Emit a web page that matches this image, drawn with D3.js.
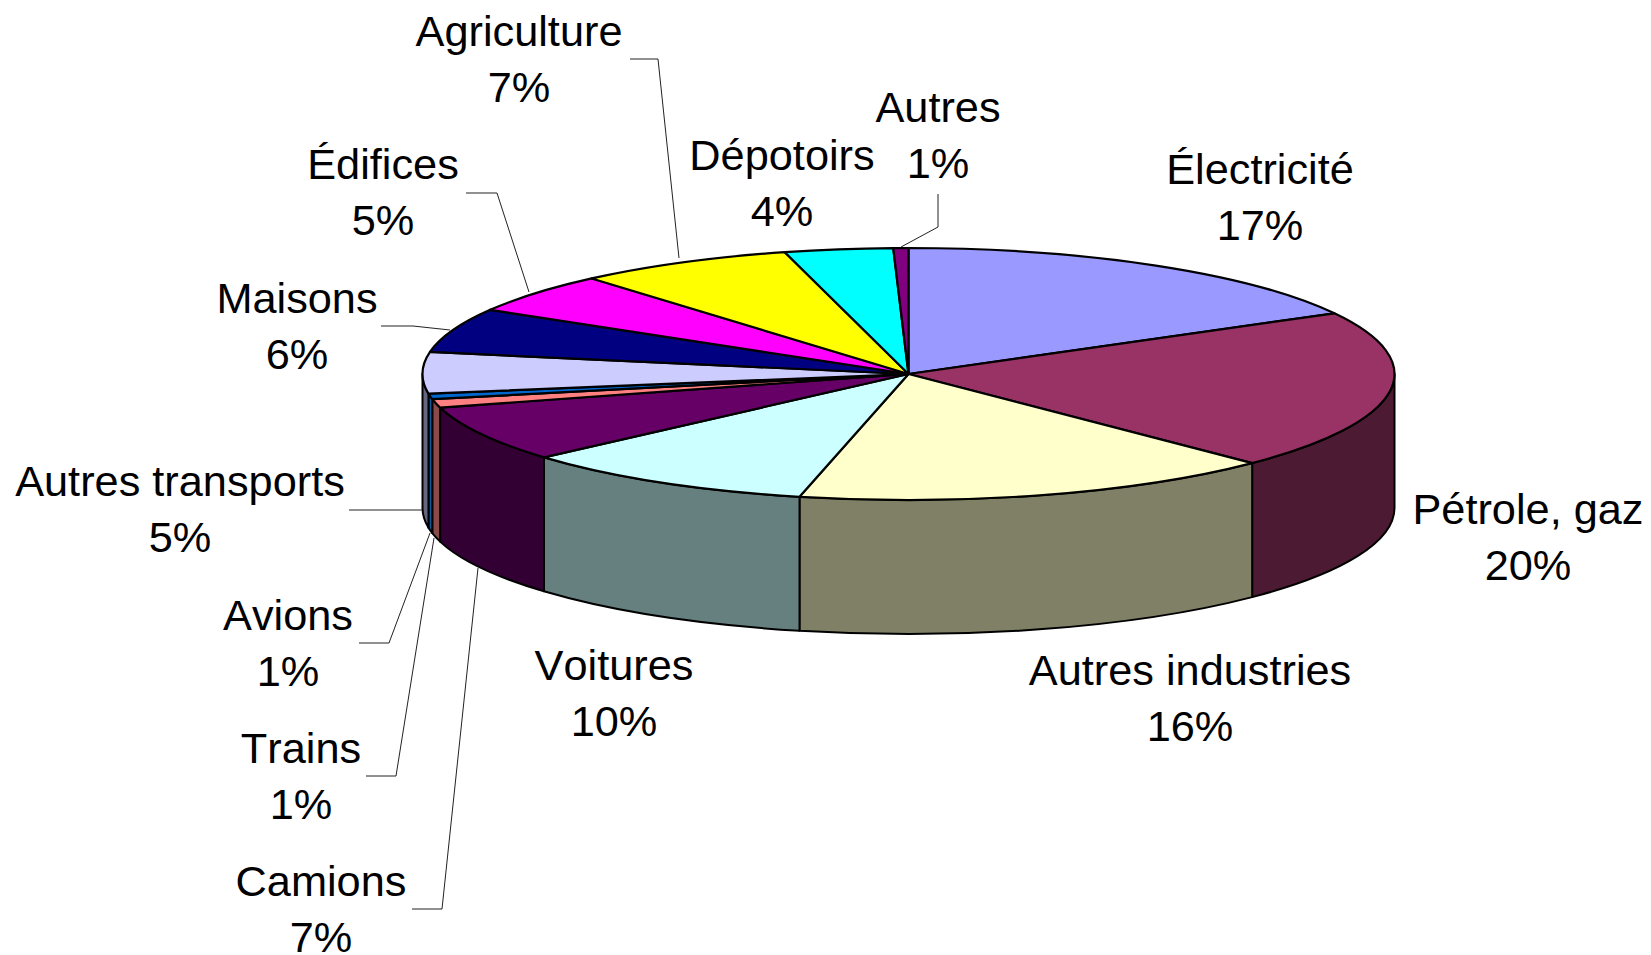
<!DOCTYPE html>
<html>
<head>
<meta charset="utf-8">
<title>Émissions par secteur</title>
<script src="https://cdn.jsdelivr.net/npm/d3@7"></script>
<style>
  html, body { margin: 0; padding: 0; background: #fff; overflow: hidden; }
  text { font-family: "Liberation Sans", Arial, sans-serif; font-size: 43.3px; fill: #000;
         font-kerning: none; font-variant-ligatures: none; }
</style>
</head>
<body>
<div id="chart"></div>
<script>
    // ===================== DATA =====================
    const categories = ["Électricité", "Pétrole, gaz", "Autres industries", "Voitures", "Camions", "Trains",
      "Avions", "Autres transports", "Maisons", "Édifices", "Agriculture", "Dépotoirs", "Autres"];
    // what the labels print
    const printedPercents = [17, 20, 16, 10, 7, 1, 1, 5, 6, 5, 7, 4, 1];
    // slice sizes (the 3D view skews them a little from the labels)
    const sliceShares = [17, 20.5, 16.1, 9.9, 7.2, 1.1, 0.7, 5.3, 5.7, 5.2, 7.2, 3.6, 0.5];

    // ===================== STYLE / LAYOUT =====================
    const sliceColors = ["#9999ff", "#993366", "#ffffcc", "#ccffff", "#660066", "#ff8080",
      "#0066cc", "#ccccff", "#000080", "#ff00ff", "#ffff00", "#00ffff", "#800080"];
    const wallColors = ["#4d4d80", "#4d1a33", "#808066", "#668080", "#330033", "#8a4a4a",
      "#0a5a9c", "#666680", "#000040", "#800080", "#808000", "#008080", "#400040"];

    const width = 1651, height = 955;
    const cx = 908.5, cy = 374, rx = 486, ry = 126, depth = 134;

    // label anchor: centre x, baseline of first line
    const labelSpots = [[1260, 184], [1528, 524], [1190, 685], [614, 680], [321, 896], [301, 763],
      [288, 630], [180, 496], [297, 313], [383, 179], [519, 46], [782, 170], [938, 122]];
    const lineGap = 55.6;

    const leaderLines = [
      [[349, 510], [422, 510]],
      [[359, 643], [389, 643], [430, 533]],
      [[366, 776], [396, 776], [434, 538]],
      [[412, 909], [442, 909], [478, 568]],
      [[381, 326], [413, 326], [450, 330]],
      [[466, 193], [497, 193], [529, 292]],
      [[630, 59], [658, 59], [679, 258]],
      [[938, 194], [938, 227], [901, 247]]
    ];

    // ===================== CHART =====================
    const svg = d3.select("#chart").append("svg")
      .attr("width", width)
      .attr("height", height);

    const color = d3.scaleOrdinal().domain(categories).range(sliceColors);
    const wallColor = d3.scaleOrdinal().domain(categories).range(wallColors);

    const pie = d3.pie().sort(null).value((d, i) => sliceShares[i]);
    const slices = pie(categories);
    const arc = d3.arc().innerRadius(0).outerRadius(rx);

    // point on the rim of the top ellipse
    const rimX = a => cx + rx * Math.sin(a);
    const rimY = a => cy - ry * Math.cos(a);

    // Walls: only the part of the rim facing the viewer
    const wallPath = d => {
      const from = Math.max(d.startAngle, Math.PI / 2);
      const to = Math.min(d.endAngle, Math.PI * 1.5);
      return `M${rimX(from)},${rimY(from)}`
        + `A${rx},${ry} 0 0 1 ${rimX(to)},${rimY(to)}`
        + `L${rimX(to)},${rimY(to) + depth}`
        + `A${rx},${ry} 0 0 0 ${rimX(from)},${rimY(from) + depth}Z`;
    };

    svg.append("g").selectAll("path")
      .data(slices.filter(d => d.endAngle > Math.PI / 2 && d.startAngle < Math.PI * 1.5))
      .enter()
      .append("path")
      .attr("d", wallPath)
      .attr("fill", d => wallColor(d.data))
      .attr("stroke", "#000")
      .attr("stroke-width", 2)
      .attr("stroke-linejoin", "round");

    // Top face: a flat d3 pie squashed into an ellipse
    svg.append("g")
      .attr("transform", `translate(${cx},${cy}) scale(1,${ry / rx})`)
      .selectAll("path")
      .data(slices)
      .enter()
      .append("path")
      .attr("d", arc)
      .attr("fill", d => color(d.data))
      .attr("stroke", "#000")
      .attr("stroke-width", 2.2)
      .attr("stroke-linejoin", "round")
      .attr("vector-effect", "non-scaling-stroke");

    // Leader lines
    svg.append("g").selectAll("path")
      .data(leaderLines)
      .enter()
      .append("path")
      .attr("d", d3.line())
      .attr("fill", "none")
      .attr("stroke", "#222")
      .attr("stroke-width", 1);

    // Labels
    const labels = svg.append("g").selectAll("text")
      .data(categories)
      .enter()
      .append("text")
      .attr("text-anchor", "middle");
    labels.append("tspan")
      .attr("x", (d, i) => labelSpots[i][0])
      .attr("y", (d, i) => labelSpots[i][1])
      .text(d => d);
    labels.append("tspan")
      .attr("x", (d, i) => labelSpots[i][0])
      .attr("y", (d, i) => labelSpots[i][1] + lineGap)
      .text((d, i) => printedPercents[i] + "%");
</script>
</body>
</html>
